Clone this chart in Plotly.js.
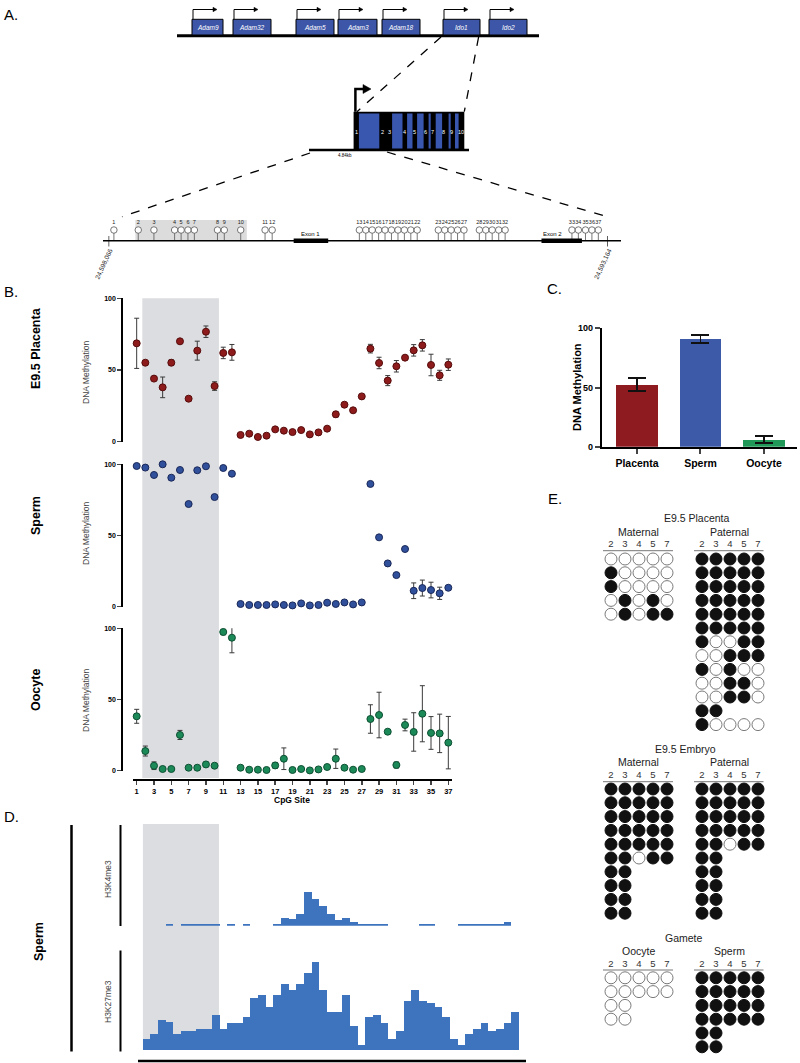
<!DOCTYPE html>
<html>
<head>
<meta charset="utf-8">
<script src="https://cdn.plot.ly/plotly-3.0.1.min.js"></script>
<style>
  html, body { margin: 0; padding: 0; background: #fff; }
  #chart { width: 800px; height: 1063px; }
</style>
</head>
<body>
<div id="chart"></div>
<script>
// ---- data ----
const cpgSites = [1, 2, 3, 4, 5, 6, 7, 8, 9, 10, 11, 12, 13, 14, 15, 16, 17, 18, 19,
  20, 21, 22, 23, 24, 25, 26, 27, 28, 29, 30, 31, 32, 33, 34, 35, 36, 37];

const placentaMeth = [68.6, 55.1, 44.0, 37.9, 55.1, 70.0, 30.0, 63.5, 76.7, 38.8, 61.9, 62.3,
  4.7, 5.6, 3.3, 4.2, 8.6, 7.7, 6.7, 8.1, 5.1, 6.5, 9.1, 19.1, 25.8, 21.9, 31.6,
  64.9, 54.9, 42.6, 52.6, 58.6, 63.7, 67.2, 53.5, 46.3, 53.7];
const placentaErr = [17.5, 0.8, 0.8, 7.2, 2.0, 0.8, 0.8, 6.6, 4.0, 3.0, 4.0, 5.5,
  0.5, 0.5, 0.5, 0.5, 0.5, 0.5, 0.5, 0.5, 0.5, 0.5, 0.5, 2.0, 1.0, 1.5, 1.0,
  3.0, 4.0, 3.5, 4.0, 1.0, 4.0, 4.0, 7.5, 3.5, 4.0];

const spermMeth = [98.8, 97.7, 92.5, 100, 90.6, 96.0, 72.1, 95.8, 98.6, 77.0, 97.4, 93.4,
  1.9, 1.2, 1.2, 1.2, 1.6, 1.2, 0.9, 2.3, 0.9, 1.2, 2.8, 1.9, 3.0, 1.6, 3.0,
  86.2, 48.7, 30.4, 22.2, 40.5, 11.2, 13.1, 11.7, 9.4, 13.3];
const spermErr = [0.5, 0.5, 0.5, 0.5, 0.5, 0.5, 0.5, 0.5, 0.5, 0.5, 0.5, 0.5,
  0.5, 0.5, 0.5, 0.5, 0.5, 0.5, 0.5, 0.5, 0.5, 0.5, 0.5, 0.5, 0.5, 0.5, 0.5,
  0.5, 0.5, 0.5, 0.5, 0.5, 5.5, 5.6, 5.5, 4.3, 1.0];

const oocyteMeth = [38.2, 13.8, 3.5, 1.2, 1.2, 25.1, 2.1, 2.1, 4.4, 3.5, 97.4, 93.4,
  2.1, 0.7, 0.7, 0.5, 3.7, 8.4, 0.5, 1.2, 0.2, 0.9, 2.6, 8.4, 2.1, 0.7, 1.2,
  36.3, 39.1, 27.4, 4.0, 32.1, 27.2, 40.0, 26.5, 26.2, 19.7];
const oocyteErr = [4.9, 3.5, 2.7, 0.3, 0.3, 3.2, 0.3, 0.5, 1.5, 1.0, 1.9, 10.6,
  0.5, 0.3, 0.3, 0.3, 2.1, 7.6, 0.3, 0.5, 0.3, 0.5, 0.8, 6.8, 0.3, 0.5, 0.5,
  10.0, 16.0, 1.2, 2.1, 4.1, 13.5, 19.7, 11.5, 13.5, 18.4];

// panel C
const bulkSamples = ['Placenta', 'Sperm', 'Oocyte'];
const bulkMeth = [52.5, 91.0, 6.0];
const bulkErr = [5.5, 3.5, 3.0];

// panel D (49 bins, null = no signal)
const h3k4me3 = [null, null, null, 1.5, null, 1.5, 1.5, 1.5, 1.5, 1.5, null, 1.5, null, 1.5,
  null, null, null, 1.5, 7.3, 6.3, 12, 33, 26.3, 20, 12, 5.7, 8, 4, 1.5, 1.5, 1.5, 1.5,
  null, null, null, null, 1.5, 1.5, null, null, null, 1.5, 1.5, 1.5, 1.5, 1.5, 1.5, 4, null];
const h3k27me3 = [11, 16, 30, 28, 16, 19, 19, 21, 21, 35, 21, 27, 27, 33, 52, 55, 43, 55,
  66, 60, 66, 77, 88, 60, 38, 38, 55, 24, 5, 33, 35, 27, 11, 19, 49, 60, 49, 47, 43, 33,
  11, 5, 16, 21, 27, 19, 21, 27, 38];

// panel A
const geneNames = ['Adam9', 'Adam32', 'Adam5', 'Adam3', 'Adam18', 'Ido1', 'Ido2'];
const ido1Exons = ['1', '2', '3', '4', '5', '6', '7', '8', '9', '10'];
const regionLength = 4902;             // 24,598,066 -> 24,593,164
const regionEnds = ['24,598,066', '24,593,164'];
const cpgOffsetBp = [52, 291, 445, 648, 712, 779, 842, 1069, 1136, 1297, 1536, 1606,
  2462, 2525, 2588, 2651, 2714, 2777, 2841, 2904, 2967, 3030,
  3237, 3300, 3363, 3426, 3489, 3640, 3703, 3766, 3830, 3893,
  4549, 4612, 4682, 4745, 4808];
const exon1Bp = [1817, 2156];
const exon2Bp = [4250, 4647];
const shadedBp = [263, 1357];

// panel E (1 = methylated)
const cloneSites = ['2', '3', '4', '5', '7'];
const placentaMaternal = ['00000', '10000', '10000', '01010', '01011'];
const placentaPaternal = ['11111', '11111', '11111', '11111', '11111', '11111', '10011',
  '00111', '10100', '00110', '00110', '11', '10000'];
const embryoMaternal = ['11111', '11111', '11111', '11111', '11111', '11011', '11', '11', '11', '11'];
const embryoPaternal = ['11111', '11111', '11111', '11111', '11011', '11', '11', '11', '11', '11'];
const gameteOocyte = ['00000', '00000', '00', '00'];
const gameteSperm = ['11111', '11111', '11111', '11111', '11', '11'];

// ---- layout helpers (pixel -> paper) ----
const W = 800, H = 1063;
const px = v => v / W;
const py = v => 1 - v / H;
const FONT = 'Liberation Sans, Arial, sans-serif';

const shapes = [];
const notes = [];

function line(x0, y0, x1, y1, width, opts = {}) {
  shapes.push({ type: 'line', xref: 'x5', yref: 'y7', x0, y0, x1, y1,
    line: { color: opts.color || '#000', width, dash: opts.dash || 'solid' } });
}
function rect(x0, y0, x1, y1, fill, lineColor, lineWidth) {
  shapes.push({ type: 'rect', xref: 'x5', yref: 'y7', x0, y0, x1, y1,
    fillcolor: fill, line: { color: lineColor || fill, width: lineWidth || 0 } });
}
function path(d, fill, lineColor, width) {
  shapes.push({ type: 'path', xref: 'x5', yref: 'y7', path: d, fillcolor: fill || 'rgba(0,0,0,0)',
    line: { color: lineColor || '#000', width: width || 1 } });
}
function label(x, y, text, size, o = {}) {
  notes.push({ xref: o.xref || 'x5', yref: o.yref || 'y7', x, y, text, showarrow: false,
    xanchor: o.xanchor || 'center', yanchor: o.yanchor || 'middle', textangle: o.angle || 0,
    font: { family: FONT, size, color: o.color || '#000', weight: o.weight || 'normal',
      style: o.style || 'normal' } });
}

// ---- panel A: locus diagram ----
label(2, 14, 'A.', 15, { xanchor: 'left' });
const geneSpan = [[192, 223], [233, 271], [296, 334], [338, 377], [382, 420], [443, 480], [489, 527]];
line(177, 35.7, 539, 35.7, 3);
geneNames.forEach((g, i) => {
  const [a, b] = geneSpan[i];
  rect(a, 19.3, b, 35, '#3d56a8', '#000', 1);
  label((a + b) / 2, 27.3, g, 6.5, { color: '#fff', style: 'italic' });
  path(`M ${a + 1} 19.3 L ${a + 1} 9.5 L ${a + 22} 9.5`, null, '#000', 1);
  path(`M ${a + 21} 7.3 L ${a + 25} 9.5 L ${a + 21} 11.7 Z`, '#000', '#000', 0.5);
});
// zoom into Ido1
line(441, 37, 357, 111.7, 1.3, { dash: 'dash' });
line(478.6, 37, 464.3, 111.7, 1.3, { dash: 'dash' });
line(309, 150, 469, 150, 2.5);
rect(353.6, 111.7, 464.3, 150, '#000', '#000', 0);
[[358.9, 379.3], [392.1, 402.5], [407.1, 412.5], [417.1, 423.6], [428.6, 430.7],
 [435.7, 442.1], [448.6, 450.7], [455, 458.6]].forEach(([a, b]) => rect(a, 113.5, b, 148.5, '#3a57b0'));
const exonLabelX = [356, 382, 389.3, 404.6, 414.3, 425.7, 432.1, 443.9, 451.8, 460.7];
ido1Exons.forEach((t, i) => label(exonLabelX[i], 131.7, t, 5.5, { color: '#fff' }));
path('M 355.4 111.7 L 355.4 89 L 364 89', null, '#000', 2.5);
path('M 363 84.5 L 371 89 L 363 93.5 Z', '#000', '#000', 0.5);
label(344.6, 155.5, '4.84kb', 4.5);
line(310, 153, 122, 216.7, 1.3, { dash: 'dash' });
line(387, 152, 607, 216.7, 1.3, { dash: 'dash' });

// CpG map
shapes.push({ type: 'rect', xref: 'x4', yref: 'y7', x0: shadedBp[0], x1: shadedBp[1], y0: 220, y1: 240.7,
  fillcolor: '#dcdcdc', line: { width: 0 }, layer: 'below' });
line(103, 240.7, 621, 240.7, 1.6);
[0, regionLength].forEach(v => shapes.push({ type: 'line', xref: 'x4', yref: 'y7', x0: v, x1: v,
  y0: 236, y1: 246.5, line: { color: '#000', width: 1.2 } }));
[exon1Bp, exon2Bp].forEach(e => shapes.push({ type: 'rect', xref: 'x4', yref: 'y7', x0: e[0], x1: e[1],
  y0: 238.5, y1: 243, fillcolor: '#000', line: { width: 0 } }));
label((exon1Bp[0] + exon1Bp[1]) / 2, 233.5, 'Exon 1', 6, { xref: 'x4' });
label(4354, 233.5, 'Exon 2', 6, { xref: 'x4' });
label(103, 264, regionEnds[0], 6.5, { angle: -65, color: '#222' });
label(602, 264, regionEnds[1], 6.5, { angle: -65, color: '#222' });

// ---- panel B ----
label(2, 291, 'B.', 15, { xanchor: 'left' });
shapes.push({ type: 'rect', xref: 'x', yref: 'paper', x0: 1.65, x1: 10.5, y0: py(778), y1: py(298.3),
  fillcolor: '#dcdde0', line: { width: 0 }, layer: 'below' });
const rowLabels = [['E9.5 Placenta', 348, 372], ['Sperm', 516, 533], ['Oocyte', 690, 700]];
rowLabels.forEach(([t, yl, ym]) => {
  label(36, yl, t, 12.5, { angle: -90, weight: 'bold' });
  label(86, ym, 'DNA Methylation', 8.5, { angle: -90, color: '#444' });
});
label(292, 800, 'CpG Site', 8.5, { weight: 'bold' });

// ---- panel C ----
label(545, 288, 'C.', 15, { xanchor: 'left' });
label(577, 387, 'DNA Methylation', 11, { angle: -90, weight: 'bold' });

// ---- panel D ----
label(2, 816, 'D.', 15, { xanchor: 'left' });
shapes.push({ type: 'rect', xref: 'x3', yref: 'paper', x0: -0.5, x1: 9.43, y0: py(1050), y1: py(824),
  fillcolor: '#dcdde0', line: { width: 0 }, layer: 'below' });
line(71.5, 825, 71.5, 1051.5, 2.5);
line(120.5, 825, 120.5, 926, 2);
line(120.5, 950.5, 120.5, 1051.5, 2);
line(138, 1061, 526, 1061, 2.5);
label(39, 942, 'Sperm', 12.5, { angle: -90, weight: 'bold' });
label(108, 879, 'H3K4me3', 8.5, { angle: -90, color: '#444' });
label(108, 1002, 'H3K27me3', 8.5, { angle: -90, color: '#444' });

// ---- panel E ----
label(546, 498, 'E.', 15, { xanchor: 'left' });
const colLeft = [611, 625, 639, 653, 667];
const colRight = [702, 716, 730, 744, 758];
const rowStep = 13.8;
const blocks = [
  { title: 'E9.5 Placenta', tx: 696.7, ty: 518.3, sub: ['Maternal', 'Paternal'], sy: 532.3, hy: 544.3, uy: 550.7,
    top: 559, left: placentaMaternal, right: placentaPaternal },
  { title: 'E9.5 Embryo', tx: 685, ty: 749.3, sub: ['Maternal', 'Paternal'], sy: 761.7, hy: 776, uy: 781.7,
    top: 789, left: embryoMaternal, right: embryoPaternal },
  { title: 'Gamete', tx: 684.3, ty: 938.3, sub: ['Oocyte', 'Sperm'], sy: 951, hy: 964.3, uy: 970,
    top: 977.8, left: gameteOocyte, right: gameteSperm }
];
const circX = [], circY = [], circFill = [], circEdge = [];
const headX = [], headY = [], headT = [];
blocks.forEach(b => {
  label(b.tx, b.ty, b.title, 10.5, { color: '#222' });
  label(638.5, b.sy, b.sub[0], 10.5, { color: '#222' });
  label(729, b.sy, b.sub[1], 10.5, { color: '#222' });
  line(603, b.uy, 673, b.uy, 1, { color: '#777' });
  line(694, b.uy, 763.5, b.uy, 1, { color: '#777' });
  [[colLeft, b.left], [colRight, b.right]].forEach(([cols, rows]) => {
    cloneSites.forEach((s, j) => { headX.push(cols[j]); headY.push(b.hy); headT.push(s); });
    rows.forEach((r, i) => r.split('').forEach((c, j) => {
      circX.push(cols[j]);
      circY.push(b.top + i * rowStep);
      circFill.push(c === '1' ? '#111' : '#fff');
      circEdge.push(c === '1' ? '#111' : '#7a7a7a');
    }));
  });
});

// ---- traces ----
function cpgTrace(y, err, fill, edge, yaxis) {
  return {
    x: cpgSites, y, xaxis: 'x', yaxis, type: 'scatter', mode: 'markers', cliponaxis: false,
    marker: { size: 7, color: fill, line: { color: edge, width: 1 } },
    error_y: { type: 'data', array: err, visible: true, color: '#3a3a3a', thickness: 1, width: 2.5 },
    hoverinfo: 'skip'
  };
}

const traces = [
  cpgTrace(placentaMeth, placentaErr, '#8e1b1b', '#560c0c', 'y'),
  cpgTrace(spermMeth, spermErr, '#30509c', '#1a2858', 'y2'),
  cpgTrace(oocyteMeth, oocyteErr, '#1c8a58', '#0d4f32', 'y3'),
  {
    x: bulkSamples, y: bulkMeth, type: 'bar', xaxis: 'x2', yaxis: 'y4', width: 0.66,
    marker: { color: ['#8d1b20', '#3c5aa8', '#1f9858'] },
    error_y: { type: 'data', array: bulkErr, color: '#111', thickness: 1.5, width: 9 },
    hoverinfo: 'skip'
  },
  {
    x: h3k4me3.map((_, i) => i), y: h3k4me3, type: 'bar', xaxis: 'x3', yaxis: 'y5', width: 1,
    marker: { color: '#3e73be', line: { width: 0 } }, hoverinfo: 'skip'
  },
  {
    x: h3k27me3.map((_, i) => i), y: h3k27me3, type: 'bar', xaxis: 'x3', yaxis: 'y6', width: 1,
    marker: { color: '#3e73be', line: { width: 0 } }, hoverinfo: 'skip'
  },
  {
    x: cpgOffsetBp, y: cpgOffsetBp.map(() => 230), xaxis: 'x4', yaxis: 'y7', type: 'scatter',
    mode: 'markers+text', text: cpgSites.map(String), textposition: 'top center',
    textfont: { family: FONT, size: 5.5, color: '#222' }, cliponaxis: false,
    marker: { size: 6.5, color: '#fff', line: { color: '#555', width: 0.8 } },
    error_y: { type: 'data', symmetric: false, array: cpgOffsetBp.map(() => 10.7),
      arrayminus: cpgOffsetBp.map(() => 0), width: 0, thickness: 0.8, color: '#555' },
    hoverinfo: 'skip'
  },
  {
    x: circX, y: circY, xaxis: 'x5', yaxis: 'y7', type: 'scatter', mode: 'markers',
    marker: { size: 12, color: circFill, line: { color: circEdge, width: 1 } }, hoverinfo: 'skip'
  },
  {
    x: headX, y: headY, xaxis: 'x5', yaxis: 'y7', type: 'scatter', mode: 'text', text: headT,
    textfont: { family: FONT, size: 9.5, color: '#333' }, hoverinfo: 'skip'
  }
];

const yMeth = (lo, hi) => ({
  domain: [py(lo), py(hi)], range: [0, 100], anchor: 'free', position: px(122.3),
  showline: true, linewidth: 2, linecolor: '#000', ticks: 'outside', ticklen: 4, tickwidth: 1.5,
  tickvals: [0, 50, 100], tickfont: { family: FONT, size: 7, weight: 'bold', color: '#000' },
  showgrid: false, zeroline: false, fixedrange: true
});
const hidden = extra => Object.assign({ visible: false, showgrid: false, zeroline: false, fixedrange: true }, extra);

const layout = {
  width: W, height: H,
  margin: { l: 0, r: 0, t: 0, b: 0 },
  paper_bgcolor: '#fff', plot_bgcolor: 'rgba(0,0,0,0)',
  showlegend: false,
  font: { family: FONT },
  xaxis: {
    domain: [px(132.7), px(451.7)], range: [0.54, 37.39], anchor: 'free', position: py(780),
    showline: true, linewidth: 2, linecolor: '#000', ticks: 'outside', ticklen: 4, tickwidth: 1.5,
    tickmode: 'linear', tick0: 1, dtick: 2,
    tickfont: { family: FONT, size: 7.5, weight: 'bold', color: '#000' },
    showgrid: false, zeroline: false, fixedrange: true
  },
  yaxis: yMeth(441.7, 298.3),
  yaxis2: yMeth(606.7, 464.3),
  yaxis3: yMeth(770.7, 628.3),
  xaxis2: {
    domain: [px(602.3), px(797)], range: [-0.546, 2.52], anchor: 'y4', type: 'category',
    showline: true, linewidth: 2.5, linecolor: '#000', ticks: 'outside', ticklen: 5, tickwidth: 2,
    tickfont: { family: FONT, size: 10.5, weight: 'bold', color: '#000' },
    showgrid: false, zeroline: false, fixedrange: true
  },
  yaxis4: {
    domain: [py(446.7), py(328.3)], range: [0, 100], anchor: 'x2',
    showline: true, linewidth: 2.5, linecolor: '#000', ticks: 'outside', ticklen: 5, tickwidth: 2,
    tickvals: [0, 50, 100], tickfont: { family: FONT, size: 9, weight: 'bold', color: '#000' },
    showgrid: false, zeroline: false, fixedrange: true
  },
  xaxis3: hidden({ domain: [px(142.7), px(519)], range: [-0.5, 48.5], anchor: 'y5' }),
  yaxis5: hidden({ domain: [py(925.7), py(825)], range: [0, 100], anchor: 'x3' }),
  yaxis6: hidden({ domain: [py(1050), py(950)], range: [0, 100], anchor: 'x3' }),
  xaxis4: hidden({ domain: [px(108.6), px(607.9)], range: [0, regionLength], anchor: 'y7' }),
  xaxis5: hidden({ domain: [0, 1], range: [0, W], anchor: 'y7' }),
  yaxis7: hidden({ domain: [0, 1], range: [H, 0], anchor: 'x5' }),
  bargap: 0,
  shapes,
  annotations: notes
};

Plotly.newPlot('chart', traces, layout, { staticPlot: true, displayModeBar: false });
</script>
</body>
</html>
